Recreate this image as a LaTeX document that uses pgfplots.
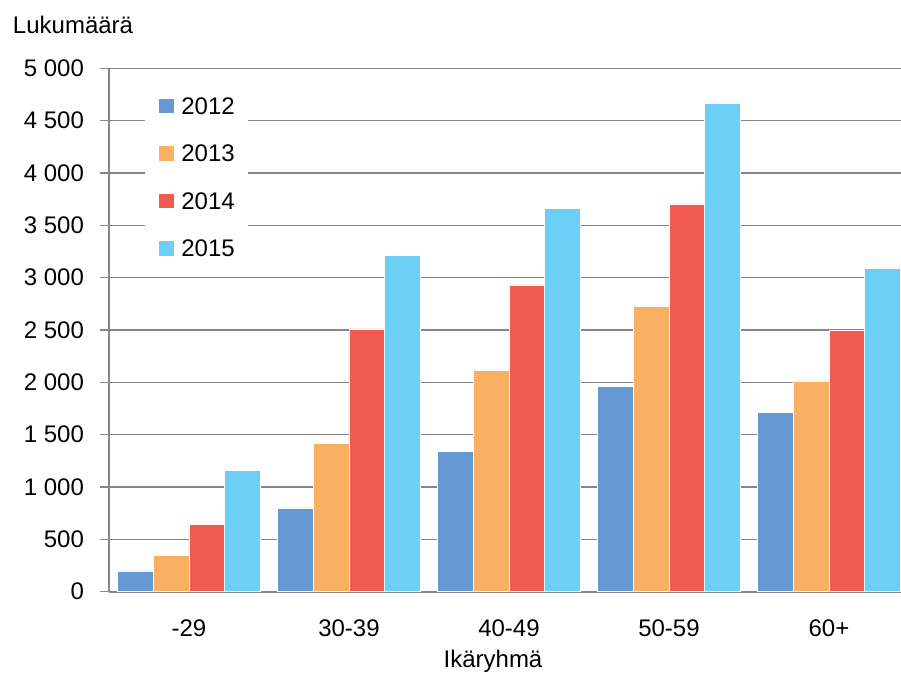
\documentclass[border=0pt]{standalone}
\usepackage{pgfplots}
\pgfplotsset{compat=1.18}
\usepackage{fontspec}
\setmainfont{Liberation Sans}

\definecolor{c2012}{HTML}{6699D3}
\definecolor{c2013}{HTML}{FAB063}
\definecolor{c2014}{HTML}{F15B4F}
\definecolor{c2015}{HTML}{6DCFF6}
\definecolor{axgray}{HTML}{868686}

\begin{document}
\begin{tikzpicture}[font=\fontsize{12}{14.4}\selectfont]
\useasboundingbox (-54.5pt,-41.65pt) rectangle (396pt,295.85pt);
\begin{axis}[
    at={(0,0)}, anchor=south west,
    scale only axis,
    width=396pt, height=261.7pt,
    xmin=-0.5, xmax=4.45,
    ymin=0, ymax=5000,
    ybar=0pt,
    bar width=0.223,
    axis lines=left,
    axis line style={-, draw=axgray, line width=0.9pt},
    tick align=outside,
    major tick length=4.5pt,
    minor tick length=4pt,
    xtick={0,1,2,3,4},
    xticklabels={-29,30-39,40-49,50-59,60+},
    xtick style={draw=none},
    minor xtick={-0.5,0.5,1.5,2.5,3.5},
    minor tick style={draw=axgray, line width=0.8pt},
    ytick={0,500,...,5000},
    ytick style={draw=axgray, line width=0.8pt},
    ymajorgrids=true,
    grid style={draw=axgray, line width=0.8pt},
    scaled y ticks=false,
    /pgf/number format/assume math mode=true,
    /pgf/number format/1000 sep={\ },
    xticklabel style={anchor=base, yshift=-18pt},
    yticklabel style={anchor=east, xshift=-4.5pt},
    legend style={at={(0.0455,0.967)}, anchor=north west, draw=none, fill=white,
        inner xsep=6.5pt, inner ysep=5.5pt, row sep=15.15pt, column sep=3.5pt,
        nodes={inner xsep=0pt, inner ysep=0pt, text height=8.6pt, text depth=0pt}},
    legend cell align=left,
    legend image code/.code={\fill[#1] (0pt,-3.85pt) rectangle (7.7pt,3.85pt);},
]
\addplot[fill=c2012, draw=white, line width=0.25pt, bar shift=-0.3345]
    coordinates {(0,200) (1,800) (2,1340) (3,1960) (4,1715)};
\addplot[fill=c2013, draw=white, line width=0.25pt, bar shift=-0.1115]
    coordinates {(0,350) (1,1415) (2,2120) (3,2730) (4,2015)};
\addplot[fill=c2014, draw=white, line width=0.25pt, bar shift=0.1115]
    coordinates {(0,640) (1,2510) (2,2930) (3,3705) (4,2500)};
\addplot[fill=c2015, draw=white, line width=0.25pt, bar shift=0.3345]
    coordinates {(0,1160) (1,3210) (2,3660) (3,4670) (4,3090)};
\legend{2012,2013,2014,2015}
\end{axis}
\node[anchor=base west, inner sep=0pt] at (-48.2pt,279.2pt) {Lukumäärä};
\node[anchor=base, inner sep=0pt] at (192pt,-37.8pt) {Ikäryhmä};
\end{tikzpicture}
\end{document}
